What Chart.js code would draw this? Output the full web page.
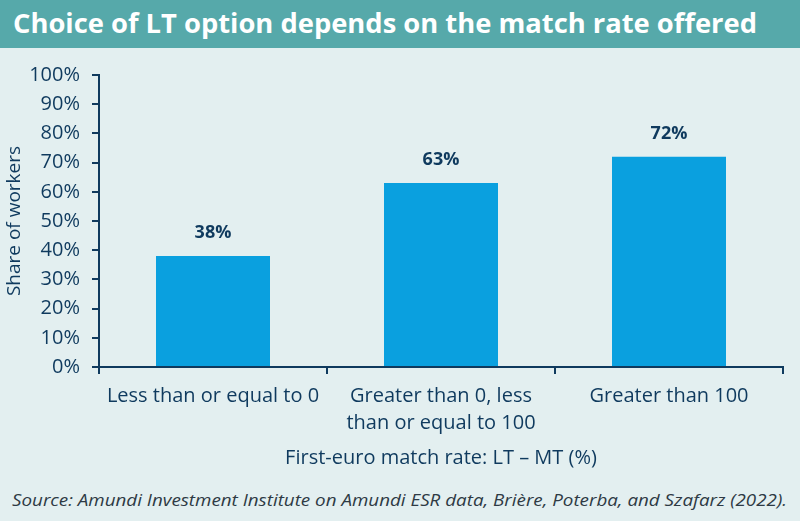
<!DOCTYPE html>
<html>
<head>
<meta charset="utf-8">
<script src="https://cdn.jsdelivr.net/npm/chart.js@4.4.1/dist/chart.umd.min.js"></script>
<style>
  html, body { margin: 0; padding: 0; }
  body { width: 800px; height: 521px; background: #e3eff0; position: relative; overflow: hidden; font-family: 'Open Sans', sans-serif; }
  #title { position: absolute; left: 0; top: 0; width: 800px; height: 48px; background: #56a9aa; }
  #title span { position: absolute; left: 13px; top: 5px; color: #fff; font-weight: 700; font-size: 26px; white-space: nowrap; transform-origin: left center; display: inline-block; }
  #wrap { position: absolute; left: 0; top: 48px; width: 800px; height: 432px; }
  #source { position: absolute; left: 12px; top: 488px; color: #2e3a44; font-style: italic; font-size: 17px; white-space: nowrap; transform-origin: left center; display: inline-block; }
</style>
</head>
<body>
<div id="title"><span id="titleText">Choice of LT option depends on the match rate offered</span></div>
<div id="wrap"><canvas id="chart" width="800" height="432"></canvas></div>
<span id="source">Source: Amundi Investment Institute on Amundi ESR data, Brière, Poterba, and Szafarz (2022).</span>
<script>
const categories = [
    'Less than or equal to 0',
    ['Greater than 0, less', 'than or equal to 100'],
    'Greater than 100'
];
const shares = [38, 63, 72];
const yTicks = [0, 10, 20, 30, 40, 50, 60, 70, 80, 90, 100];

const navy = '#0f3a5e';
const barBlue = '#0aa0df';

// squeeze the condensed-looking texts to their widths in the picture
function fitWidth(el, target) {
    const w = el.getBoundingClientRect().width;
    if (w > 0) el.style.transform = 'scaleX(' + (target / w) + ')';
}
fitWidth(document.getElementById('titleText'), 744);
fitWidth(document.getElementById('source'), 775);

// value labels above bars
const barLabels = {
    id: 'barLabels',
    afterDatasetsDraw(chart) {
        const ctx = chart.ctx;
        const meta = chart.getDatasetMeta(0);
        ctx.save();
        ctx.font = 'bold 18px "Open Sans"';
        ctx.fillStyle = navy;
        ctx.textAlign = 'center';
        ctx.textBaseline = 'middle';
        meta.data.forEach((bar, i) => {
            ctx.fillText(shares[i] + '%', bar.x, bar.y - 23);
        });
        ctx.restore();
    }
};

const ctx = document.getElementById('chart').getContext('2d');
new Chart(ctx, {
    type: 'bar',
    data: {
        labels: categories,
        datasets: [{
            data: shares,
            backgroundColor: barBlue,
            categoryPercentage: 1,
            barPercentage: 0.5
        }]
    },
    options: {
        responsive: false,
        animation: false,
        layout: { padding: { top: 27, right: 17, bottom: 0, left: 0 } },
        plugins: {
            legend: { display: false },
            tooltip: { enabled: false }
        },
        scales: {
            x: {
                afterFit(scale) { scale.height = 113; },
                border: { display: true, color: navy, width: 2 },
                grid: { display: true, drawOnChartArea: false, drawTicks: true, tickLength: 7, color: navy, lineWidth: 2, offset: true },
                ticks: { color: navy, font: { size: 20, family: 'Open Sans', lineHeight: 1.35 }, padding: 9, maxRotation: 0, autoSkip: false },
                title: {
                    display: true,
                    text: 'First-euro match rate: LT \u2013 MT (%)',
                    color: navy,
                    font: { size: 20, family: 'Open Sans' },
                    padding: { top: 4, bottom: 10 }
                }
            },
            y: {
                min: 0,
                max: 100,
                afterFit(scale) { scale.width = 99; },
                afterBuildTicks(scale) { scale.ticks = yTicks.map(v => ({ value: v })); },
                border: { display: true, color: navy, width: 2 },
                grid: { display: true, drawOnChartArea: false, drawTicks: true, tickLength: 7, color: navy, lineWidth: 2 },
                ticks: { color: navy, font: { size: 20, family: 'Open Sans' }, padding: 12, callback: v => v + '%' },
                title: {
                    display: true,
                    text: 'Share of workers',
                    color: navy,
                    font: { size: 19, family: 'Open Sans' },
                    padding: { top: 3, bottom: 4 }
                }
            }
        }
    },
    plugins: [barLabels]
});
</script>
</body>
</html>
